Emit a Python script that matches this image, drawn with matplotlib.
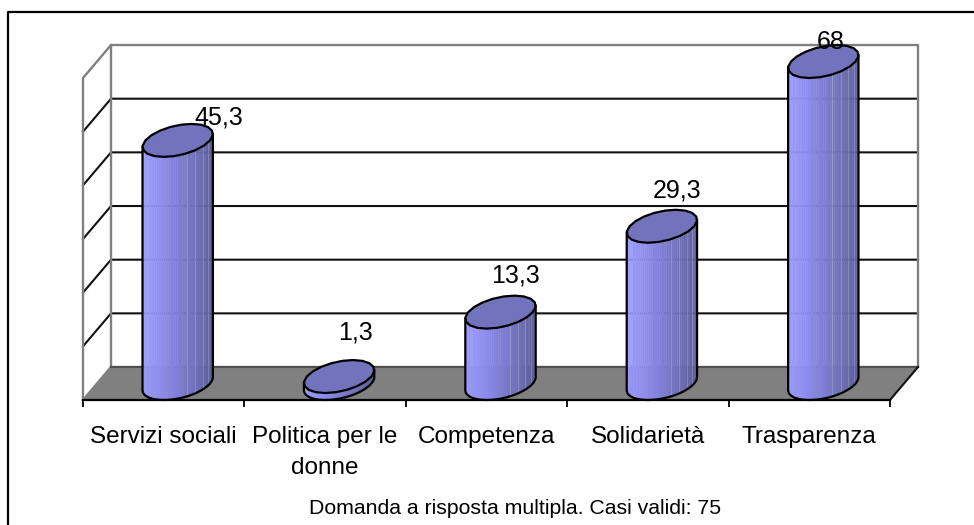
"""Bar chart with 3D look: cylinders on a floor, Excel style"""

import numpy as np
import matplotlib
matplotlib.use("Agg")
import matplotlib.pyplot as plt
from matplotlib.colors import LinearSegmentedColormap
from matplotlib.lines import Line2D
from matplotlib.patches import Polygon

plt.rcParams["font.family"] = ["Liberation Sans", "DejaVu Sans"]

categories = [
    "Servizi sociali",
    "Politica per le\ndonne",
    "Competenza",
    "Solidarietà",
    "Trasparenza",
]
values = [45.3, 1.3, 13.3, 29.3, 68]
y_ticks = [0, 10, 20, 30, 40, 50, 60]
note = "Domanda a risposta multipla. Casi validi: 75"

W, H = 974, 525
Y_MAX = y_ticks[-1]

# depth of the fake 3D box, in data units (28 px and 33 px on screen)
DEPTH_X = 28 / 161.4
DEPTH_Y = 33 / 5.37
RADIUS = 0.2  # gap width 150%

# where Excel put the data labels, pixels from the top centre of each bar
label_shift = [(41, 23), (16, 44), (15, 37), (15, 36), (7, 20)]

body_cmap = LinearSegmentedColormap.from_list(
    "body", ["#9c9cff", "#8f8ff0", "#7f7fd6", "#7070b8", "#5c5c9c"]
)

fig = plt.figure(figsize=(W / 100, H / 100), dpi=100, facecolor="w")
ax = fig.add_axes([83 / W, (H - 400) / H, 807 / W, 322 / H])
ax.set_xlim(0, len(categories))
ax.set_ylim(0, Y_MAX)
ax.patch.set_visible(False)
for side in ["top", "left", "right"]:
    ax.spines[side].set_visible(False)
ax.spines["bottom"].set_linewidth(1.6)
ax.spines["bottom"].set_zorder(6)

x_end = len(categories)

# Floor and walls
ax.add_patch(
    Polygon(
        [(0, 0), (x_end, 0), (x_end + DEPTH_X, DEPTH_Y), (DEPTH_X, DEPTH_Y)],
        facecolor="#808080",
        edgecolor="none",
        clip_on=False,
        zorder=1,
    )
)

for tick in y_ticks[1:-1]:
    ax.plot(
        [0, DEPTH_X, x_end + DEPTH_X],
        [tick, tick + DEPTH_Y, tick + DEPTH_Y],
        color="#111111",
        lw=1.5,
        clip_on=False,
        zorder=2,
    )

# outline of the box, gray
ax.plot(
    [0, 0, DEPTH_X, x_end + DEPTH_X, x_end + DEPTH_X, DEPTH_X],
    [0, Y_MAX, Y_MAX + DEPTH_Y, Y_MAX + DEPTH_Y, DEPTH_Y, DEPTH_Y],
    color="#808080",
    lw=1.7,
    clip_on=False,
    zorder=2,
)
ax.plot([0, DEPTH_X, DEPTH_X], [0, DEPTH_Y, Y_MAX + DEPTH_Y], color="#808080", lw=1.7,
        clip_on=False, zorder=2)
ax.plot([DEPTH_X, x_end + DEPTH_X], [DEPTH_Y, DEPTH_Y], color="#505050", lw=1.5,
        clip_on=False, zorder=2)
ax.plot([x_end, x_end + DEPTH_X], [0, DEPTH_Y], color="#111111", lw=1.5,
        clip_on=False, zorder=2)


def ellipse_xy(cx, level, angles):
    """Points of the cylinder section at a given height, mid depth of the box"""
    x = cx + DEPTH_X / 2 + RADIUS * np.cos(angles) + DEPTH_X / 2 * np.sin(angles)
    y = level + DEPTH_Y / 2 + DEPTH_Y / 2 * np.sin(angles)
    return x, y


# the silhouette goes through these two angles
right_angle = np.arctan2(DEPTH_X / 2, RADIUS)
left_angle = right_angle - np.pi
half_width = np.hypot(RADIUS, DEPTH_X / 2)

for i, value in enumerate(values):
    cx = i + 0.5
    top = min(value, Y_MAX)  # the tallest bar is cut by the axis

    front = np.linspace(left_angle, right_angle, 49)
    xb, yb = ellipse_xy(cx, 0, front)
    xt, yt = ellipse_xy(cx, top, front)
    cx_mid = cx + DEPTH_X / 2

    # body, made of narrow facets
    for j in range(len(front) - 1):
        frac = ((xb[j] + xb[j + 1]) / 2 - (cx_mid - half_width)) / (2 * half_width)
        ax.add_patch(
            Polygon(
                [
                    (xb[j], yb[j]),
                    (xb[j + 1], yb[j + 1]),
                    (xt[j + 1], yt[j + 1]),
                    (xt[j], yt[j]),
                ],
                facecolor=body_cmap(frac),
                edgecolor=body_cmap(frac),
                lw=0.3,
                clip_on=False,
                zorder=3 + i * 0.01,
            )
        )
        # pale seams on the shaded side
        if frac > 0.6 and j % 4 == 0 and top > 5:
            ax.plot(
                [xb[j], xt[j]],
                [yb[j], yt[j]],
                color="w",
                alpha=0.18,
                lw=0.8,
                clip_on=False,
                zorder=3.5 + i * 0.01,
            )

    # outline of the body
    ax.plot(
        np.r_[xt[0], xb, xt[-1]],
        np.r_[yt[0], yb, yt[-1]],
        color="k",
        lw=1.6,
        clip_on=False,
        zorder=3.6 + i * 0.01,
    )

    # top of the cylinder, coarse polygon like the original
    around = np.linspace(0, 2 * np.pi, 21)[:-1]
    xe, ye = ellipse_xy(cx, top, around)
    ax.add_patch(
        Polygon(
            np.column_stack([xe, ye]),
            facecolor="#7373bd",
            edgecolor="k",
            lw=1.6,
            clip_on=False,
            zorder=3.7 + i * 0.01,
        )
    )

    ax.annotate(
        f"{value:g}".replace(".", ","),
        xy=(cx + DEPTH_X / 2, top + DEPTH_Y / 2),
        xytext=label_shift[i],
        textcoords="offset pixels",
        ha="center",
        va="center",
        fontsize=18,
        color="k",
        annotation_clip=False,
        zorder=8,
    )

# Axis ticks and category names
ax.set_yticks([])
ax.set_xticks(range(len(categories) + 1))
ax.set_xticklabels([])
ax.set_xticks(np.arange(len(categories)) + 0.5, minor=True)
ax.set_xticklabels(categories, minor=True, fontsize=17.5, linespacing=1.5)
ax.tick_params(axis="x", which="major", length=5, width=1.3, color="k")
ax.tick_params(axis="x", which="minor", length=0, pad=19)

fig.text(515.5 / W, 1 - 508 / H, note, ha="center", va="center", fontsize=15.3)

# Chart frame, runs off the image at right and bottom
fig.add_artist(
    Line2D([8 / W, 8 / W, 1], [0, 1 - 11.5 / H, 1 - 11.5 / H], color="k", lw=1.6)
)

fig.savefig("out.png", dpi=100, facecolor="w")
